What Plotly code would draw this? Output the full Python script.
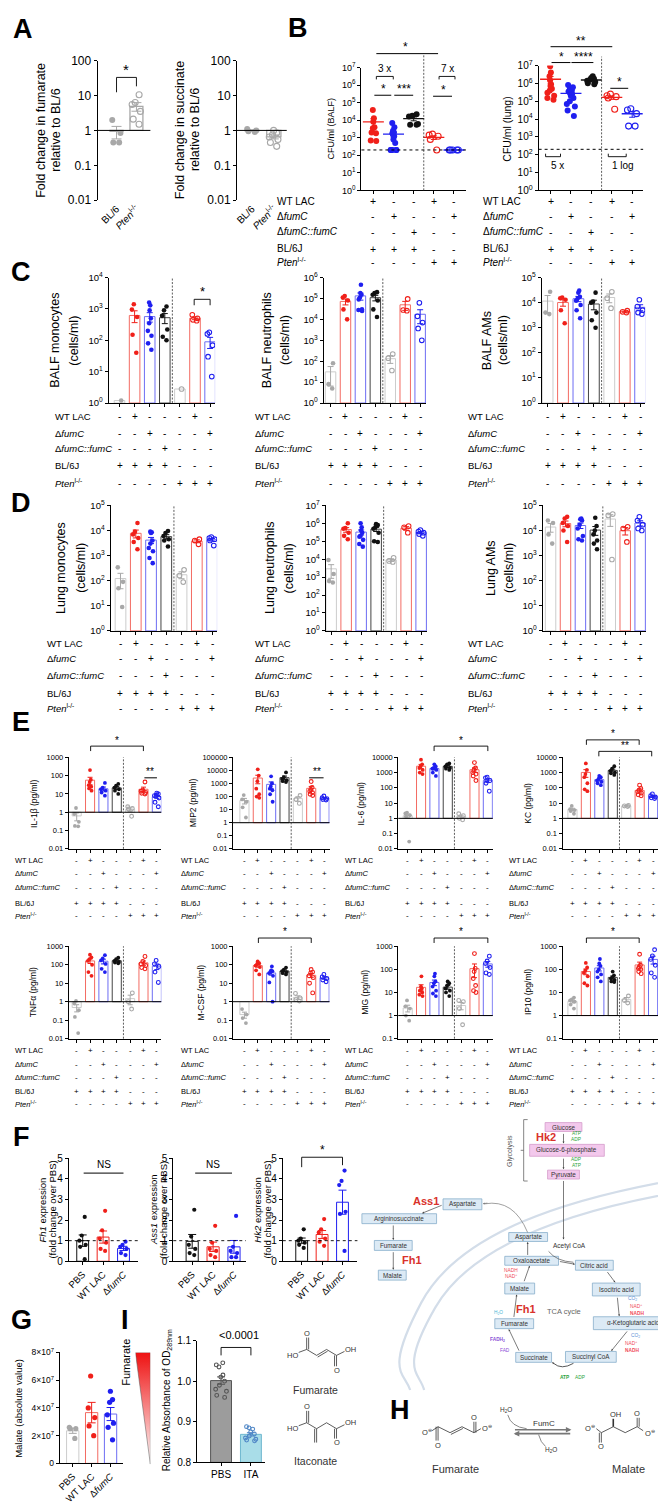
import numpy as np
import plotly.graph_objects as go

W, H = 666, 1502
FONT = "Liberation Sans"

RED, BLUE, BLACK, GRAY = "#f0201a", "#1f1ff0", "#111111", "#a8a8a8"
RED_BAR, BLUE_BAR, BLACK_BAR, GRAY_BAR = "#f36b63", "#6d6df3", "#444444", "#cccccc"

# ---------------- data ----------------
fumarate_fold = [[2.0, 0.85, 0.45, 0.45], [10.5, 6.3, 5.5, 3.5, 2.1, 1.5]]
succinate_fold = [[1.1, 1.0, 0.95, 0.9], [1.0, 0.85, 0.75, 0.65, 0.55, 0.45, 0.35]]
a_labels = ["BL/6", "<i>Pten</i><sup>l-/-</sup>"]

cfu_balf = [
    [38000, 13000, 8000, 4000, 3500, 2000, 1800, 700, 650],
    [7000, 4000, 2500, 2000, 1800, 1500, 1200, 800, 500, 200, 200, 200, 200, 200],
    [22000, 18000, 16000, 6000, 5500, 5500],
    [1600, 1400, 1200, 800, 200],
    [200, 200, 200, 200, 200],
]
cfu_lung = [
    [9e6, 4e6, 2.5e6, 1.5e6, 9e5, 7e5, 5e5, 4e5, 3e5, 2e5, 1.5e5, 1.2e5],
    [8e5, 6e5, 5e5, 4e5, 3.5e5, 3e5, 2.5e5, 2e5, 1.5e5, 1e5, 7e4, 5e4, 3e4, 1.5e4],
    [2.5e6, 2e6, 1.8e6, 1.6e6, 1.4e6, 1.2e6, 1.0e6, 9e5],
    [2.5e5, 2e5, 1.8e5, 1.5e5, 3.5e4],
    [3.8e4, 3.2e4, 2.0e4, 4e3, 4e3],
]
cfu_lod = 200

balf_monocytes = [[1.2], [1400, 950, 550, 150, 40], [1600, 1300, 900, 500, 350, 200, 140, 80, 50],
                  [1200, 900, 600, 220, 130, 100], [2.8], [650, 500, 450, 420], [180, 160, 70, 30, 7]]
balf_neutrophils = [[80, 8, 5], [1.3e5, 1.1e5, 8e4, 3e4, 1e4], [4.5e5, 1.8e5, 1.5e5, 1.1e5, 9e4, 3e4, 2.8e4, 2.5e4],
                    [2e5, 1.8e5, 1.5e5, 8e4, 3e4, 1.3e4], [220, 140, 36], [9.5e4, 2.8e4, 2.6e4],
                    [6.2e4, 1.4e4, 7e3, 3.7e3, 1e3]]
balf_ams = [[2.7e4, 4e3, 3.5e3], [1.6e4, 1.5e4, 1.3e4, 5e3, 1.5e3], [3e4, 2.5e4, 1.7e4, 1.5e4, 1.2e4, 8e3, 5e3, 2.4e3],
            [2.5e4, 1.1e4, 1e4, 4e3, 2e3, 1e3], [2.7e4, 1.5e4, 6e3], [4.8e3, 4.3e3, 4e3],
            [1.3e4, 7e3, 5e3, 4e3, 3.5e3]]
lung_monocytes = [[340, 90, 50, 9], [2e4, 9e3, 7e3, 5e3, 3.5e3, 1.8e3], [9e3, 8.5e3, 8e3, 4e3, 3e3, 2e3, 1.5e3, 800, 500],
                  [9.5e3, 8e3, 6e3, 4.5e3, 4e3, 2.3e3], [270, 160, 88], [4.5e3, 4e3, 2.8e3],
                  [5.5e3, 5e3, 4.5e3, 4e3, 2.5e3]]
lung_neutrophils = [[9e3, 1.5e3, 600, 500], [1e6, 5.5e5, 5e5, 3e5, 2e5, 1.3e5],
                    [1e6, 6e5, 4e5, 3e5, 2e5, 1.8e5, 1.2e5, 7e4, 5e4], [9e5, 8e5, 6e5, 5e5, 3e5, 1e5, 9e4],
                    [1.2e4, 8e3, 7e3], [7e5, 6e5, 3e5], [4.2e5, 3.5e5, 3e5, 2.5e5, 2e5]]
lung_ams = [[2.5e4, 2e4, 7e3, 3e3], [3.5e4, 3e4, 2e4, 1.5e4, 1e4, 3.5e3],
            [3e4, 2.8e4, 2.5e4, 1.7e4, 1.2e4, 6e3, 4.5e3, 4e3], [3.2e4, 1.5e4, 1e4, 7e3, 4e3, 3e3, 1.8e3],
            [4.5e4, 4e4, 700], [1.4e4, 1.2e4, 3.5e3], [3.5e4, 2.5e4, 1.7e4, 1.2e4, 1e4]]

il1b = [[1.7, 0.8, 0.3, 0.18, 0.17], [200, 60, 45, 30, 25, 20, 15], [40, 22, 18, 15, 12, 8],
        [35, 28, 22, 18, 15, 10], [2.0, 1.6, 1.5, 0.6], [45, 16, 14, 12, 11, 10], [11, 10, 8.5, 8, 6, 3.5, 2]]
mip2 = [[130, 60, 40, 15, 2.5], [1.2e4, 4e3, 1.5e3, 400, 150, 100, 80], [3.5e3, 1e3, 600, 400, 300, 150, 40],
        [7e3, 3e3, 2.2e3, 1.8e3, 1.5e3, 1.3e3], [120, 60, 30], [1.4e3, 500, 350, 250, 200, 150, 120],
        [110, 80, 70, 60, 55]]
il6 = [[2.4, 2.1, 1.6, 1.3, 0.03], [7e3, 3.5e3, 2.5e3, 2e3, 1.5e3, 1e3, 800], [3.5e3, 2.5e3, 2e3, 1.8e3, 1.5e3, 1e3, 600],
       [4e3, 3.5e3, 2.5e3, 2e3, 1.8e3, 1.5e3], [2.0, 1.5, 1.0, 0.8], [4.5e3, 2e3, 1.5e3, 1e3, 800, 600, 300],
       [500, 450, 300, 200, 60]]
kc = [[6.5, 4, 3.5, 3, 2], [4e3, 1.5e3, 800, 500, 200, 80, 60], [600, 500, 400, 300, 250, 200, 150],
      [2.6e3, 1.8e3, 1.3e3, 1e3, 900, 700], [7, 6.5, 6], [150, 90, 70, 55, 45, 35, 30], [40, 30, 25, 22, 20]]
tnfa = [[1.1, 0.8, 0.35, 0.15, 0.02], [350, 250, 200, 160, 100, 40, 25], [330, 220, 170, 110, 60, 40],
        [240, 200, 160, 140, 130, 120], [3.0, 1.0, 0.4], [280, 150, 110, 90, 70, 60], [170, 110, 80, 40, 11]]
mcsf = [[0.4, 0.2, 0.13, 0.07], [150, 120, 110, 90, 75, 50, 30], [80, 50, 45, 40, 35, 25, 11, 1],
        [70, 55, 45, 40, 35, 30], [2.8, 1.6, 1.3, 1.1], [55, 40, 35, 25, 20, 10, 3], [30, 22, 18, 15, 12]]
mig = [[4.5, 2.5, 2, 1, 0.6], [50, 18, 15, 13, 12, 10, 8, 7], [65, 50, 30, 25, 18, 12, 9, 7],
       [30, 25, 20, 15, 12, 10, 7], [4.5, 4, 2, 0.4], [480, 110, 80, 40, 20, 12, 10], [370, 230, 180, 120, 70, 60]]
ip10 = [[6, 5, 4.5, 4, 3, 2], [190, 120, 90, 70, 50, 25, 20], [280, 180, 140, 100, 80, 60, 45, 30],
        [80, 55, 45, 40, 35, 30, 28], [7, 4.5, 3.5], [450, 150, 130, 110, 100, 80, 65], [700, 380, 270, 150, 70, 45]]

fh1 = [[2.15, 1.25, 1.0, 0.8, 0.7, 0.1], [2.45, 1.5, 1.1, 0.9, 0.6, 0.5], [0.95, 0.8, 0.7, 0.6, 0.4, 0.3]]
ass1 = [[2.5, 1.2, 0.8, 0.6, 0.4, 0.3], [1.72, 0.9, 0.6, 0.5, 0.3, 0.2], [2.2, 0.7, 0.5, 0.4, 0.2, 0.2]]
hk2 = [[1.55, 1.1, 1.0, 0.9, 0.8, 0.65], [2.05, 1.55, 1.4, 1.1, 0.95, 0.75], [4.4, 3.9, 3.7, 2.4, 2.3, 0.5]]
f_labels = ["PBS", "WT LAC", "Δ<i>fumC</i>"]

malate = [[2.6e7, 2.5e7, 2.5e7, 1.8e7], [6.3e7, 4.0e7, 3.3e7, 2.7e7, 2.0e7],
          [5.2e7, 4.6e7, 4.4e7, 3.5e7, 2.9e7, 2.6e7, 1.7e7]]
absorbance = [[1.045, 1.04, 1.035, 1.015, 1.01, 1.0, 0.99, 0.98, 0.975, 0.965, 0.96],
              [0.888, 0.885, 0.882, 0.875, 0.87, 0.865, 0.86, 0.857, 0.855, 0.853]]
i_labels = ["PBS", "ITA"]

row_labels = ["WT LAC", "Δ<i>fumC</i>", "Δ<i>fumC::fumC</i>", "BL/6J", "<i>Pten</i><sup>l-/-</sup>"]
rows7 = [list("-+---+-"), list("--+---+"), list("---+---"), list("++++---"), list("----+++")]
rows5 = [list("+--+-"), list("-+--+"), list("--+--"), list("+++--"), list("---++")]

# ---------------- helpers ----------------
fig = go.Figure()
axes = {}
annotations = []
shapes = []
count = [0]


def px(x):
    return x / W


def py(y):
    return 1 - y / H


def sfx(n):
    return "" if n == 1 else str(n)


def txt(x, y, s, size=9, color="black", anchor="center", angle=0, xref="paper", family=FONT):
    annotations.append(dict(x=px(x) if xref == "paper" else x, y=py(y), xref=xref, yref="paper", text=s,
                            showarrow=False, textangle=angle, xanchor=anchor, yanchor="middle",
                            font=dict(size=size, color=color, family=family)))


def seg(x0, y0, x1, y1, color="black", width=1, dash="solid"):
    shapes.append(dict(type="line", xref="paper", yref="paper", x0=px(x0), y0=py(y0), x1=px(x1), y1=py(y1),
                       line=dict(color=color, width=width, dash=dash)))


def P(x, y):
    return f"{px(x):.5f},{py(y):.5f}"


def curve(d, color="#555", width=0.8):
    shapes.append(dict(type="path", xref="paper", yref="paper", path=d, line=dict(color=color, width=width)))


def arrow(x0, y0, x1, y1, color="#444", width=0.7, size=0.55):
    annotations.append(dict(x=px(x1), y=py(y1), xref="paper", yref="paper", ax=x0 - x1, ay=y0 - y1,
                            showarrow=True, text="", arrowhead=2, arrowsize=size, arrowwidth=width,
                            arrowcolor=color))


def xr(left, right, c0, c1, n):
    step = (c1 - c0) / (n - 1)
    return [(left - c0) / step, (right - c0) / step]


def new_axes(left, right, top, bottom, xrange, yrange, ylog=False, yvals=None, ytext=None, ysize=9,
             xvals=None, xtext=None, xangle=0, xsize=9, xline=True, hidden=False):
    count[0] += 1
    n = count[0]
    tf = dict(family=FONT, color="black")
    xa = dict(domain=[px(left), px(right)], anchor="y" + sfx(n), range=xrange, showline=xline and not hidden,
              linecolor="black", linewidth=1, ticks="outside" if (xline and not hidden) else "", ticklen=3,
              tickwidth=1, tickcolor="black", showgrid=False, zeroline=False, tickvals=xvals, ticktext=xtext,
              showticklabels=xtext is not None, tickfont=dict(size=xsize, **tf), tickangle=xangle)
    ya = dict(domain=[py(bottom), py(top)], anchor="x" + sfx(n), range=yrange, type="log" if ylog else "linear",
              showline=not hidden, linecolor="black", linewidth=1, ticks="" if hidden else "outside", ticklen=3,
              tickwidth=1, tickcolor="black", showgrid=False, zeroline=False, tickvals=yvals, ticktext=ytext,
              showticklabels=not hidden, tickfont=dict(size=ysize, **tf))
    axes["xaxis" + sfx(n)] = xa
    axes["yaxis" + sfx(n)] = ya
    return n


def style(dot, bar, open_):
    return dict(dot=dot, bar=bar, open=open_)


STYLE7 = [style(GRAY, GRAY_BAR, False), style(RED, RED_BAR, False), style(BLUE, BLUE_BAR, False),
          style(BLACK, BLACK_BAR, False), style(GRAY, GRAY_BAR, True), style(RED, RED_BAR, True),
          style(BLUE, BLUE_BAR, True)]
STYLE5 = [STYLE7[1], STYLE7[2], STYLE7[3], STYLE7[5], STYLE7[6]]


def draw_groups(n, groups, styles, base=1, log=True, size=4.5, bars=True, mean_line=False, bar_w=0.68,
                bar_fill=None, jitter=0.85, box_w=0.5, lw=1.0, err_w=3):
    xa, ya = "x" + sfx(n), "y" + sfx(n)
    means = [float(np.mean(g)) for g in groups]
    sems = [float(np.std(g, ddof=1) / np.sqrt(len(g))) if len(g) > 1 else 0.0 for g in groups]
    idx = list(range(len(groups)))
    if bars:
        fig.add_trace(go.Bar(x=idx, y=[m - base for m in means], base=[base] * len(groups), width=bar_w,
                             marker=dict(color=bar_fill or ["rgba(255,255,255,0)"] * len(groups),
                                         line=dict(color=[s["bar"] for s in styles], width=lw)),
                             xaxis=xa, yaxis=ya, hoverinfo="skip"))
    for i, (g, st) in enumerate(zip(groups, styles)):
        m, s = means[i], sems[i]
        lo = min(s, m * 0.9) if log else s
        if s > 0 or mean_line:
            fig.add_trace(go.Scatter(
                x=[i], y=[m], mode="markers",
                marker=dict(symbol="line-ew", size=15 if mean_line else 1, opacity=1 if mean_line else 0,
                            line=dict(width=1.4 if mean_line else 0, color=st["dot"])),
                error_y=dict(type="data", symmetric=False, array=[s], arrayminus=[lo], color=st["dot"],
                             thickness=1, width=err_w),
                xaxis=xa, yaxis=ya, hoverinfo="skip"))
        fig.add_trace(go.Box(
            x=[i] * len(g), y=g, boxpoints="all", jitter=jitter, pointpos=0, width=box_w,
            fillcolor="rgba(0,0,0,0)", line=dict(color="rgba(0,0,0,0)", width=0),
            marker=dict(symbol="circle-open" if st["open"] else "circle", size=size, color=st["dot"],
                        line=dict(width=1.1 if st["open"] else 0, color=st["dot"])),
            xaxis=xa, yaxis=ya, hoverinfo="skip"))
    return means


def table(n, rows_y, label_x, pattern, size=9.5):
    for label, y, row in zip(row_labels, rows_y, pattern):
        txt(label_x, y, label, size=size, anchor="left")
        for i, sym in enumerate(row):
            annotations.append(dict(x=i, y=py(y), xref="x" + sfx(n), yref="paper", text=sym, showarrow=False,
                                    xanchor="center", yanchor="middle",
                                    font=dict(size=size + 0.5, family=FONT, color="black")))


def vdash(n, pos, top, bottom):
    shapes.append(dict(type="line", xref="x" + sfx(n), yref="paper", x0=pos, x1=pos, y0=py(bottom), y1=py(top),
                       line=dict(color="#333", width=0.8, dash="2px,1.5px")))


def hline(n, value, color="black", width=1, dash="solid"):
    shapes.append(dict(type="line", xref="x" + sfx(n) + " domain", yref="y" + sfx(n), x0=0, x1=1,
                       y0=value, y1=value, line=dict(color=color, width=width, dash=dash)))


def bracket(x0, x1, y, leg0=5, leg1=5, width=0.9):
    curve(f"M {P(x0, y + leg0)} L {P(x0, y)} L {P(x1, y)} L {P(x1, y + leg1)}", color="black", width=width)


def sup_ticks(lo, hi):
    vals = [10 ** k for k in range(lo, hi + 1)]
    return vals, [f"10<sup>{k}</sup>" for k in range(lo, hi + 1)]


def plain_ticks(lo, hi):
    vals = [10 ** k for k in range(lo, hi + 1)]
    labels = {-2: "0.01", -1: "0.1"}
    return vals, [labels.get(k, str(int(10 ** k))) for k in range(lo, hi + 1)]


# ---------------- panel A ----------------
a_style = [style(GRAY, GRAY, False), style(GRAY, GRAY, True)]
for (left, right, c0, c1, data, t1, t2, tx) in [
        (87, 140, 106, 126, fumarate_fold, "Fold change in fumarate", "relative to BL/6", 30),
        (227, 277, 242, 264, succinate_fold, "Fold change in succinate", "relative to BL/6", 170)]:
    yv, yt = plain_ticks(-2, 2)
    n = new_axes(left, right, 46, 187, xr(left, right, c0, c1, 2), [-2, 2], True, yv, yt, ysize=12,
                 xvals=[0, 1], xtext=a_labels, xsize=10, xangle=-45, xline=False)
    hline(n, 1)
    draw_groups(n, data, a_style, base=1, size=6, bar_w=0.65, lw=1.3, box_w=0.6, err_w=5)
    txt(tx, 116, t1, size=12.5, angle=-90)
    txt(tx + 15, 116, t2, size=12.5, angle=-90)
bracket(106, 126, 63, 15, 9)
txt(116, 55, "*", size=15)

# ---------------- panel B ----------------
yv, yt = sup_ticks(0, 7)
b1 = new_axes(352, 457, 53, 177, xr(352, 457, 364, 445, 5), [0, 7], True, yv, yt, ysize=9, xvals=list(range(5)))
draw_groups(b1, cfu_balf, STYLE5, bars=False, mean_line=True, size=6, jitter=1.0, box_w=0.55)
hline(b1, cfu_lod, width=1, dash="dot")
vdash(b1, 2.5, 39, 177)
b2 = new_axes(530, 635, 51, 177, xr(530, 635, 542, 624, 5), [0, 7], True, yv, yt, ysize=10, xvals=list(range(5)))
draw_groups(b2, cfu_lung, STYLE5, bars=False, mean_line=True, size=6, jitter=1.0, box_w=0.55)
hline(b2, cfu_lod, width=1, dash="dot")
vdash(b2, 2.5, 42, 177)
txt(321, 115, "CFU/ml (BALF)", size=9, angle=-90)
txt(498, 115, "CFU/ml (lung)", size=10.5, angle=-90)
for n, lx in [(b1, 265), (b2, 472)]:
    table(n, [188, 203, 219, 236, 249], lx, rows5, size=10)
seg(367, 39, 429, 39)
txt(396, 32, "*", size=12)
bracket(367, 384, 62, 3, 3)
txt(375, 54, "3 x", size=10)
bracket(430, 446, 62, 3, 3)
txt(438, 54, "7 x", size=10)
seg(365, 81, 382, 81)
txt(374, 75, "*", size=12)
seg(385, 81, 404, 81)
txt(395, 75, "***", size=12)
seg(424, 82, 443, 82)
txt(434, 76, "*", size=12)
seg(542, 32, 604, 32)
txt(573, 26, "**", size=12)
seg(543, 48, 562, 48)
txt(553, 42, "*", size=12)
seg(563, 48, 585, 48)
txt(575, 42, "****", size=12)
seg(602, 74, 620, 74)
txt(611, 68, "*", size=12)
bracket(537, 552, 143, -3, -3)
txt(549, 152, "5 x", size=10)
bracket(600, 618, 143, -3, -3)
txt(615, 152, "1 log", size=10)

# ---------------- panels C and D ----------------
panels_cd = [
    (balf_monocytes, 98, 205, 109, 200, 4, 265, 391.7, "BALF monocytes", 44.6, 63.7),
    (balf_neutrophils, 314, 417, 321, 411, 6, 265, 391.7, "BALF neutrophils", 257, 276),
    (balf_ams, 533, 637, 539, 632, 5, 265, 391.7, "BALF AMs", 478, 495),
    (lung_monocytes, 100, 207, 110, 202, 5, 495, 621.7, "Lung monocytes", 50, 70),
    (lung_neutrophils, 316, 418, 321.6, 412, 7, 495, 621.7, "Lung neutrophils", 260, 279.5),
    (lung_ams, 534, 638, 542, 632, 5, 495, 621.7, "Lung AMs", 482, 500),
]
cd_axes = []
for data, left, right, c0, c1, hi, top, bottom, title, t1x, t2x in panels_cd:
    yv, yt = sup_ticks(0, hi)
    n = new_axes(left, right, top, bottom, xr(left, right, c0, c1, 7), [0, hi], True, yv, yt, ysize=9.5,
                 xvals=list(range(7)))
    draw_groups(n, data, STYLE7, base=1, size=4.6, bar_w=0.7)
    vdash(n, 3.5, top, bottom)
    cy = (top + bottom) / 2
    txt(t1x, cy, title, size=12.5, angle=-90)
    txt(t2x, cy, "(cells/ml)", size=12.5, angle=-90)
    cd_axes.append(n)
for n, lx in zip(cd_axes[:3], [42, 243, 457]):
    table(n, [405.3, 422.3, 437.7, 455, 472.7], lx, rows7, size=9.5)
for n, lx in zip(cd_axes[3:], [34, 243, 457]):
    table(n, [634.3, 650, 666.7, 685, 700], lx, rows7, size=9.5)
bracket(184, 200, 287, 6, 6)
txt(192, 279, "*", size=13)

# ---------------- panel E ----------------
e_cols = [(58, 151, 66, 146.5, 2), (223, 320, 234.5, 315, 169), (389, 484, 398.5, 479, 333),
          (554, 650, 564, 645, 498)]
e_rows = [(749.3, 841.7, [853.3, 866.7, 881, 896.7, 909.3]), (940, 1033.3, [1045, 1059, 1073, 1087, 1099])]
e_panels = [(il1b, -2, 3, "IL-1β (pg/ml)", 23), (mip2, -2, 5, "MIP2 (pg/ml)", 183),
            (il6, -2, 4, "IL-6 (pg/ml)", 352), (kc, -2, 4, "KC (pg/ml)", 519),
            (tnfa, -2, 3, "TNFα (pg/ml)", 23), (mcsf, -2, 3, "M-CSF (pg/ml)", 191),
            (mig, -1, 3, "MIG (pg/ml)", 356), (ip10, -1, 3, "IP10 (pg/ml)", 520)]
for k, (data, lo, hi, title, tx) in enumerate(e_panels):
    left, right, c0, c1, lx = e_cols[k % 4]
    top, bottom, rows_y = e_rows[k // 4]
    yv, yt = plain_ticks(lo, hi)
    n = new_axes(left, right, top, bottom, xr(left, right, c0, c1, 7), [lo, hi], True, yv, yt, ysize=7.5,
                 xvals=list(range(7)))
    hline(n, 1)
    draw_groups(n, data, STYLE7, base=1, size=3.8, bar_w=0.68, box_w=0.5, err_w=2.5)
    vdash(n, 3.5, top, bottom)
    txt(tx, (top + bottom) / 2, title, size=8.5, angle=-90)
    table(n, rows_y, lx, rows7, size=7.5)

bracket(80, 133, 738, 5, 5)
txt(106.5, 732, "*", size=10)
seg(134, 770, 146.6, 770)
txt(140, 764, "**", size=10)
seg(299.5, 770, 314, 770)
txt(307, 764, "**", size=10)
bracket(425, 479, 738, 5, 5)
txt(452, 732, "*", size=10)
bracket(578, 631, 731.7, 5, 5)
txt(604.5, 725, "*", size=10)
bracket(590.5, 643.6, 743.3, 5, 5)
txt(617, 737, "**", size=10)
for x0, x1 in [(248.5, 301.6), (425, 479), (578, 631)]:
    bracket(x0, x1, 931.7, 5, 5)
    txt((x0 + x1) / 2, 925, "*", size=10)

# ---------------- panel F (bar charts) ----------------
f_style = [style(BLACK, BLACK, False), style(RED, RED, False), style(BLUE, BLUE, False)]
f_specs = [(fh1, 58, 128, 72, 113, "<i>Fh1</i> expression", 32),
           (ass1, 163, 236, 182, 224, "<i>Ass1</i> expression", 143),
           (hk2, 273, 348, 292, 333, "<i>Hk2</i> expression", 248)]
for data, left, right, c0, c1, title, tx in f_specs:
    n = new_axes(left, right, 1154, 1258, xr(left, right, c0, c1, 3), [0, 5], False, [0, 1, 2, 3, 4, 5],
                 ["0", "1", "2", "3", "4", "5"], ysize=10, xvals=[0, 1, 2], xtext=f_labels, xangle=-45, xsize=9.5)
    draw_groups(n, data, f_style, base=0, log=False, size=4.2, bar_w=0.58, box_w=0.45, err_w=4)
    hline(n, 1, width=0.9, dash="dot")
    txt(tx, 1206, title, size=9.5, angle=-90)
    txt(tx + 10, 1206, "(fold change over PBS)", size=9.5, angle=-90)
seg(73, 1169, 113, 1169)
txt(93, 1160, "NS", size=10)
seg(185, 1169, 222, 1169)
txt(203, 1160, "NS", size=10)
bracket(292, 333, 1153, 10, 8)
txt(313, 1146, "*", size=12)

# ---------------- panel G ----------------
g_style = [style(GRAY, GRAY_BAR, False), style(RED, RED_BAR, False), style(BLUE, BLUE_BAR, False)]
n = new_axes(49, 113, 1350, 1462, xr(49, 113, 62, 100, 3), [0, 8e7], False, [0, 2e7, 4e7, 6e7, 8e7],
             ["0", "2×10<sup>7</sup>", "4×10<sup>7</sup>", "6×10<sup>7</sup>", "8×10<sup>7</sup>"], ysize=8.5,
             xvals=[0, 1, 2], xtext=f_labels, xangle=-45, xsize=9.5)
draw_groups(n, malate, g_style, base=0, log=False, size=5.2, bar_w=0.65, box_w=0.5, err_w=4)
txt(8, 1406, "Malate (absolute value)", size=9.5, angle=-90)

# ---------------- panel I ----------------
i_style = [style("#555555", "#555555", True), style("#4f86c6", "#6fb7cf", True)]
n = new_axes(187, 255, 1338, 1461, xr(187, 255, 211, 241, 2), [0.8, 1.1], False, [0.8, 0.9, 1.0, 1.1],
             ["0.8", "0.9", "1.0", "1.1"], ysize=10, xvals=[0, 1], xtext=i_labels, xsize=10)
draw_groups(n, absorbance, i_style, base=0.8, log=False, size=3.8, bar_w=0.7, box_w=0.55, err_w=4,
            bar_fill=["#9c9c9c", "#a9dde8"])
txt(157, 1398, "Relative Absorbance of OD<sub>289nm</sub>", size=10, angle=-90)
bracket(211, 241, 1345, 8, 8)
txt(229, 1332, "<0.0001", size=11)

# fumarate gradient wedge
n = new_axes(125, 140, 1350, 1463, [0, 1], [0, 1], hidden=True)
fig.add_trace(go.Scatter(x=[0, 1, 1, 0], y=[1, 1, 0, 1], mode="lines", fill="toself",
                         fillgradient=dict(type="vertical", colorscale=[[0, "#ffffff"], [1, "#ee1111"]]),
                         line=dict(color="#555555", width=0.5), xaxis="x" + sfx(n), yaxis="y" + sfx(n),
                         hoverinfo="skip"))
txt(116, 1360, "Fumarate", size=11, angle=-90)


# ---------------- chemical structures ----------------
def bond(a, b, double=False, color="#333", width=0.8, off=2.0):
    seg(a[0], a[1], b[0], b[1], color, width)
    if double:
        dx, dy = b[0] - a[0], b[1] - a[1]
        L = (dx * dx + dy * dy) ** 0.5
        nx, ny = -dy / L * off, dx / L * off
        seg(a[0] + nx, a[1] + ny, b[0] + nx, b[1] + ny, color, width)


def atom(x, y, s, size=7.5):
    txt(x, y, s, size=size, color="#333")


# fumarate (panel I)
c1, c2, c3, c4 = (297, 1347), (307, 1353), (317, 1347), (327, 1353)
bond((289, 1350), c1)
bond(c1, (297, 1335), True)
bond(c1, c2)
bond(c2, c3, True)
bond(c3, c4)
bond(c4, (327, 1364), True)
bond(c4, (335, 1349))
atom(283, 1353, "HO")
atom(297, 1331, "O")
atom(327, 1368, "O")
atom(341, 1347, "OH")
txt(306, 1388, "Fumarate", size=10.5, color="#333")
# itaconate (panel I)
c1, c2, c3, c4 = (297, 1421), (307, 1427), (317, 1421), (327, 1427)
bond((289, 1424), c1)
bond(c1, (297, 1409), True)
bond(c1, c2)
bond(c2, (307, 1441), True)
bond(c2, c3)
bond(c3, c4)
bond(c4, (327, 1437), True)
bond(c4, (335, 1423))
atom(283, 1427, "HO")
atom(297, 1405, "O")
atom(327, 1441, "O")
atom(341, 1421, "OH")
txt(306, 1460, "Itaconate", size=10.5, color="#333")

# fumarate dianion (panel H)
c1, c2, c3, c4 = (429, 1425), (441, 1431), (453, 1425), (465, 1431)
bond((423, 1429), c1)
bond(c1, (429, 1439), True)
bond(c1, c2)
bond(c2, c3, True)
bond(c3, c4)
bond(c4, (465, 1420), True)
bond(c4, (472, 1427))
atom(418, 1430, "O<sup>⊖</sup>")
atom(429, 1444, "O")
atom(465, 1416, "O")
atom(478, 1426, "O<sup>⊖</sup>")
txt(447, 1468, "Fumarate", size=11, color="#333")
# malate dianion (panel H)
c1, c2, c3, c4 = (593, 1431), (605, 1425), (617, 1431), (629, 1425)
bond((588, 1427), c1)
bond(c1, (593, 1441), True)
bond(c1, c2)
bond(c2, (605, 1417), width=1.6)
bond(c2, c3)
bond(c3, c4)
bond(c4, (629, 1416), True)
bond(c4, (635, 1429))
atom(582, 1426, "O<sup>⊖</sup>")
atom(593, 1445, "O")
atom(607, 1413, "OH")
atom(629, 1412, "O")
atom(642, 1431, "O<sup>⊖</sup>")
txt(620, 1468, "Malate", size=11, color="#333")
# FumC equilibrium arrows
arrow(505, 1428, 563, 1428, color="#777", width=1.6, size=0.7)
arrow(563, 1432, 505, 1432, color="#777", width=1.6, size=0.7)
txt(535, 1422, "FumC", size=8, color="#333")
txt(497, 1408, "H<sub>2</sub>O", size=6.5, color="#333")
txt(542, 1449, "H<sub>2</sub>O", size=6.5, color="#333")
curve(f"M {P(499, 1413)} Q {P(502, 1425)} {P(518, 1427)}", color="#555", width=0.7)
curve(f"M {P(530, 1433)} Q {P(532, 1441)} {P(537, 1445)}", color="#555", width=0.7)

# ---------------- pathway diagram ----------------
curve(f"M {P(666, 1176)} C {P(560, 1195)} {P(450, 1228)} {P(412, 1300)} S {P(396, 1370)} {P(401, 1388)}",
      color="#d3dde9", width=2.2)
curve(f"M {P(666, 1189)} C {P(565, 1207)} {P(463, 1240)} {P(426, 1305)} S {P(411, 1370)} {P(415, 1388)}",
      color="#d3dde9", width=2.2)

BLUE_BOX = ("#dceaf5", "#88aecb")
PINK_BOX = ("#f3c8ec", "#d59dcc")
boxes = [("Glucose", 555, 1122.5, 37, 9, PINK_BOX), ("Glucose-6-phosphate", 558.5, 1146, 75, 12, PINK_BOX),
         ("Pyruvate", 555, 1170.5, 32, 9, PINK_BOX), ("Aspartate", 453.5, 1200.5, 39, 11, BLUE_BOX),
         ("Argininosuccinate", 390, 1215, 75, 10, BLUE_BOX), ("Fumarate", 384, 1242, 38, 10, BLUE_BOX),
         ("Malate", 383, 1272, 28, 10, BLUE_BOX), ("Aspartate", 519.5, 1233.5, 39, 9, BLUE_BOX),
         ("Oxaloacetate", 523, 1257.5, 54, 9, BLUE_BOX), ("Citric acid", 586, 1262, 38, 10, BLUE_BOX),
         ("Isocitric acid", 608, 1286.5, 48, 13, BLUE_BOX), ("α-Ketoglutaric acid", 625, 1320.5, 80, 13, BLUE_BOX),
         ("Succinyl CoA", 582.5, 1354.5, 51, 11, BLUE_BOX), ("Succinate", 525, 1355, 36, 10, BLUE_BOX),
         ("Fumarate", 505.5, 1321, 39, 10, BLUE_BOX), ("Malate", 511, 1285.5, 30, 11, BLUE_BOX)]
for label, cx, cy, bw, bh, (fill, edge) in boxes:
    shapes.append(dict(type="rect", xref="paper", yref="paper", x0=px(cx - bw / 2), x1=px(cx + bw / 2),
                       y0=py(cy + bh / 2), y1=py(cy - bh / 2), fillcolor=fill, line=dict(color=edge, width=0.8)))
    txt(cx, cy, label, size=6.3, color="#333")

txt(502, 1147, "Glycolysis", size=7, color="#555", angle=-90)
curve(f"M {P(519, 1115)} L {P(515, 1115)} L {P(515, 1177)} L {P(519, 1177)}", color="#666", width=0.8)
seg(515, 1146, 512, 1146, "#666", 0.8)
txt(537, 1133, "<b>Hk2</b>", size=11, color="#d9322c")
txt(417, 1197, "<b>Ass1</b>", size=11, color="#d9322c")
txt(403, 1257, "<b>Fh1</b>", size=11, color="#d9322c")
txt(517, 1306, "<b>Fh1</b>", size=11, color="#d9322c")
txt(555, 1309, "TCA cycle", size=7.5, color="#666")
txt(561, 1243, "Acetyl CoA", size=6.5, color="#333")
GREEN, PINK, CYAN, PURPLE, SKY = "#2aa33a", "#ef4a5a", "#4ab6d6", "#8a4fd6", "#5b8fd6"
for s, x, y, c in [("ATP", 568, 1129, GREEN), ("ADP", 568, 1135, GREEN), ("ADP", 568, 1155, GREEN),
                   ("ATP", 568, 1161, GREEN), ("NADH", 502, 1267, PINK), ("NAD<sup>+</sup>", 502, 1273, PINK),
                   ("H<sub>2</sub>O", 490, 1310, CYAN), ("CO<sub>2</sub>", 624, 1296, SKY),
                   ("NAD<sup>+</sup>", 628, 1303, PINK), ("<b>NADH</b>", 629, 1311, PINK),
                   ("CO<sub>2</sub>", 627, 1333, SKY), ("NAD<sup>+</sup>", 623, 1340, PINK),
                   ("<b>NADH</b>", 624, 1348, PINK), ("<b>FADH<sub>2</sub></b>", 489, 1337, PURPLE),
                   ("FAD", 496, 1348, PURPLE), ("<b>ATP</b>", 557, 1375, GREEN), ("ADP", 572, 1375, GREEN)]:
    txt(x, y, s, size=4.8, color=c)

for a in [(555, 1128, 555, 1139), (555, 1153, 555, 1165), (555, 1176, 555, 1236), (384, 1220.5, 384, 1236.5),
          (384, 1247.5, 384, 1266.5), (434, 1201, 413, 1209.5), (550, 1258, 566.5, 1261), (598, 1267.5, 607, 1279.5),
          (609, 1293.5, 611, 1313.5), (620, 1327.5, 603, 1348.5), (505, 1315.5, 508, 1291.5),
          (515, 1279.5, 521, 1262.5), (519, 1253, 519, 1238.5), (511, 1349.5, 500, 1326.5)]:
    arrow(*a)
curve(f"M {P(540, 1248)} Q {P(548, 1258)} {P(565, 1259)}", color="#555", width=0.7)
curve(f"M {P(519, 1229)} Q {P(505, 1195)} {P(476, 1200)}", color="#777", width=0.7)
arrow(480, 1199, 474, 1200, color="#777")
curve(f"M {P(565, 1361)} Q {P(553, 1368)} {P(545, 1361)}", color="#444", width=0.9)
arrow(547, 1362.5, 543.5, 1360, color="#444")

# ---------------- panel letters ----------------
for s, x, y in [("A", 12, 14), ("B", 288, 13), ("C", 10, 259), ("D", 10, 493), ("E", 10, 714),
                ("F", 11, 1133), ("G", 11, 1317), ("I", 115, 1317), ("H", 391, 1408)]:
    txt(x, y, f"<b>{s}</b>", size=27)

fig.update_layout(width=W, height=H, margin=dict(l=0, r=0, t=0, b=0), paper_bgcolor="white",
                  plot_bgcolor="white", showlegend=False, annotations=annotations, shapes=shapes,
                  barmode="overlay", boxmode="overlay", **axes)
fig.write_html("out.html")
